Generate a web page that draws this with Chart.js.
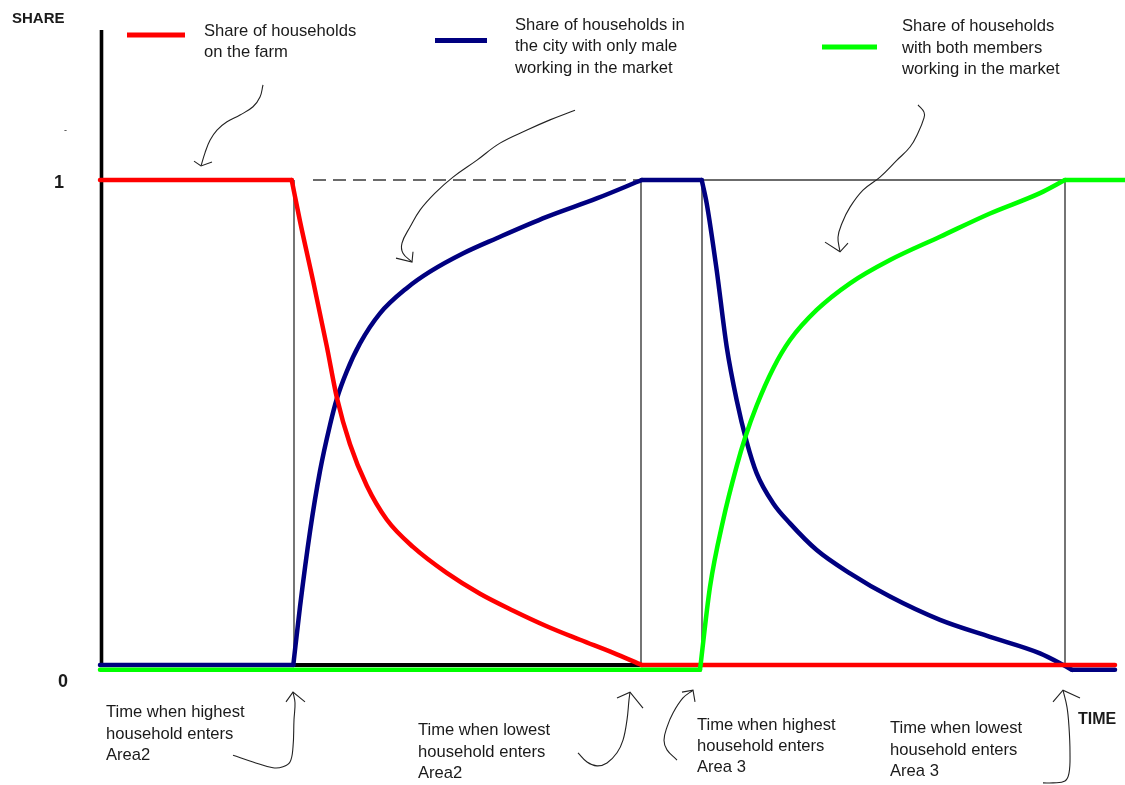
<!DOCTYPE html>
<html><head><meta charset="utf-8">
<script src="https://cdn.jsdelivr.net/npm/chart.js@4.4.1/dist/chart.umd.min.js"></script>
<style>html,body{margin:0;padding:0;background:#fff}canvas{display:block}</style>
</head><body>
<canvas id="c" width="1125" height="785"></canvas>
<script>
// ---- data (time units, share) ----
const keyTimes = [1.94, 5.41, 6.02, 9.65];
const yTickLabels = ["0", "1"];

const timeFarm  = [0, 1.917, 2.0, 2.133, 2.267, 2.37, 2.5, 2.667, 2.867, 3.133, 3.467, 3.8, 4.133, 4.467, 4.8, 5.133, 5.417, 10.15];
const shareFarm = [1, 1, 0.915, 0.79, 0.658, 0.55, 0.455, 0.37, 0.30, 0.243, 0.19, 0.147, 0.112, 0.08, 0.052, 0.025, 0, 0];

const timeMale  = [0, 1.933, 2.0, 2.1, 2.2, 2.3, 2.37, 2.467, 2.6, 2.8, 3.067, 3.3, 3.633, 3.967, 4.467, 4.967, 5.417, 6.017, 6.067, 6.167, 6.267, 6.367, 6.467, 6.567, 6.733, 6.9, 7.167, 7.5, 7.9, 8.4, 8.9, 9.4, 9.633, 9.72, 10.15];
const shareMale = [0, 0, 0.12, 0.275, 0.40, 0.495, 0.55, 0.605, 0.663, 0.725, 0.777, 0.811, 0.849, 0.880, 0.924, 0.962, 1, 1, 0.952, 0.814, 0.656, 0.546, 0.460, 0.395, 0.333, 0.292, 0.237, 0.189, 0.141, 0.093, 0.058, 0.024, 0, -0.01, -0.01];

const timeBoth  = [0, 6.0, 6.1, 6.233, 6.367, 6.45, 6.567, 6.733, 6.9, 7.167, 7.5, 7.9, 8.4, 8.9, 9.4, 9.65, 10.25];
const shareBoth = [-0.01, -0.01, 0.161, 0.30, 0.41, 0.468, 0.535, 0.612, 0.670, 0.732, 0.787, 0.835, 0.883, 0.931, 0.973, 1, 1];

const dashedTop = [2.13, 5.41];
const solidTop  = [5.41, 9.65];

// annotation arrows (time, share)
const arrowFarmT = [1.63, 1.60, 1.53, 1.40, 1.27, 1.17, 1.10, 1.05, 1.01];
const arrowFarmV = [1.196, 1.171, 1.151, 1.134, 1.120, 1.103, 1.082, 1.056, 1.029];
const headFarmT  = [0.94, 1.01, 1.12];
const headFarmV  = [1.039, 1.029, 1.037];

const arrowMaleT = [4.75, 4.50, 4.27, 4.00, 3.77, 3.53, 3.35, 3.20, 3.10, 3.02, 3.03, 3.12];
const arrowMaleV = [1.144, 1.124, 1.103, 1.076, 1.041, 1.006, 0.973, 0.938, 0.903, 0.870, 0.849, 0.831];
const headMaleT  = [2.96, 3.12, 3.13];
const headMaleV  = [0.839, 0.831, 0.852];

const arrowBothT = [8.18, 8.24, 8.24, 8.18, 8.10, 7.97, 7.80, 7.63, 7.50, 7.42, 7.38, 7.40];
const arrowBothV = [1.155, 1.140, 1.128, 1.097, 1.068, 1.041, 1.006, 0.979, 0.944, 0.911, 0.882, 0.852];
const headBothT  = [7.25, 7.40, 7.48];
const headBothV  = [0.872, 0.852, 0.870];

const arrowA_T = [1.33, 1.53, 1.73, 1.83, 1.90, 1.93, 1.94, 1.95, 1.93];
const arrowA_V = [-0.186, -0.200, -0.212, -0.210, -0.200, -0.169, -0.113, -0.078, -0.056];
const headA_T  = [1.86, 1.93, 2.05];
const headA_V  = [-0.076, -0.056, -0.076];

const arrowB_T = [4.78, 4.87, 4.97, 5.07, 5.17, 5.23, 5.27, 5.29, 5.30];
const arrowB_V = [-0.181, -0.200, -0.208, -0.202, -0.181, -0.155, -0.113, -0.072, -0.056];
const headB_T  = [5.17, 5.30, 5.43];
const headB_V  = [-0.068, -0.056, -0.089];

const arrowC_T = [5.77, 5.67, 5.64, 5.67, 5.73, 5.83, 5.93];
const arrowC_V = [-0.196, -0.175, -0.155, -0.128, -0.099, -0.068, -0.052];
const headC_T  = [5.82, 5.93, 5.95];
const headC_V  = [-0.056, -0.052, -0.076];

const arrowD_T = [9.43, 9.53, 9.65, 9.69, 9.70, 9.69, 9.67, 9.63];
const arrowD_V = [-0.243, -0.243, -0.239, -0.223, -0.181, -0.128, -0.087, -0.052];
const headD_T  = [9.53, 9.63, 9.80];
const headD_V  = [-0.076, -0.052, -0.068];

const legendFarm = ["Share of households", "on the farm"];
const legendMale = ["Share of households in", "the city with only male", "working in the market"];
const legendBoth = ["Share of households", "with both members", "working in the market"];
const noteA = ["Time when highest", "household enters", "Area2"];
const noteB = ["Time when lowest", "household enters", "Area2"];
const noteC = ["Time when highest", "household enters", "Area 3"];
const noteD = ["Time when lowest", "household enters", "Area 3"];

// ---- build ----
const pts = (t, v) => t.map((x, i) => ({x: x, y: v[i]}));
const RED = '#ff0000', NAVY = '#000080', GREEN = '#00ff00', THIN = '#3a3a3a', INK = '#1a1a1a';

// split a series into runs of flat / sloped segments so each run is smoothed on its own
function runs(t, v) {
  const out = [];
  let cur = [{x: t[0], y: v[0]}], curFlat = null;
  for (let i = 1; i < t.length; i++) {
    const flat = Math.abs(v[i] - v[i - 1]) < 1e-9;
    if (curFlat !== null && flat !== curFlat) {
      out.push(cur);
      cur = [{x: t[i - 1], y: v[i - 1]}];
    }
    curFlat = flat;
    cur.push({x: t[i], y: v[i]});
  }
  out.push(cur);
  return out;
}

const datasets = [];
function series(t, v, color, order) {
  runs(t, v).forEach(r => datasets.push({data: r, borderColor: color, borderWidth: 4.5, showLine: true, pointRadius: 0,
      cubicInterpolationMode: 'monotone', clip: false, order: order, borderCapStyle: 'round', borderJoinStyle: 'round'}));
}
function thin(t, v, dash, order) {
  datasets.push({data: pts(t, v), borderColor: THIN, borderWidth: 1.4, showLine: true, pointRadius: 0,
          tension: 0, borderDash: dash || [], clip: false, order: order});
}
function arrow(t, v, curved) {
  datasets.push({data: pts(t, v), borderColor: '#222', borderWidth: 1.1, showLine: true, pointRadius: 0,
          tension: curved ? 0.4 : 0, clip: false, order: 0});
}

series(timeBoth, shareBoth, GREEN, 1);
series(timeFarm, shareFarm, RED, 2);
series(timeMale, shareMale, NAVY, 3);
thin(dashedTop, [1, 1], [13, 7], 10);
thin(solidTop, [1, 1], [], 10);
keyTimes.forEach(k => thin([k, k], [0, 1], [], 10));
[[arrowFarmT, arrowFarmV, headFarmT, headFarmV], [arrowMaleT, arrowMaleV, headMaleT, headMaleV],
 [arrowBothT, arrowBothV, headBothT, headBothV], [arrowA_T, arrowA_V, headA_T, headA_V],
 [arrowB_T, arrowB_V, headB_T, headB_V], [arrowC_T, arrowC_V, headC_T, headC_V],
 [arrowD_T, arrowD_V, headD_T, headD_V]].forEach(a => {
  arrow(a[0], a[1], true);
  arrow(a[2], a[3], false);
});

const FONT = '16.6px "Liberation Sans", Arial, sans-serif';
const BOLD = (s) => 'bold ' + s + 'px "Liberation Sans", Arial, sans-serif';

const axesPlugin = {
  id: 'axes',
  beforeDatasetsDraw(chart) {
    const c = chart.ctx, xs = chart.scales.x, ys = chart.scales.y;
    const x0 = xs.getPixelForValue(0), y0 = ys.getPixelForValue(0);
    c.save();
    c.strokeStyle = '#000'; c.lineCap = 'butt';
    c.lineWidth = 3.6;
    c.beginPath(); c.moveTo(x0 + 1.5, chart.chartArea.top); c.lineTo(x0 + 1.5, y0 + 1.5); c.stroke();
    c.lineWidth = 4;
    c.beginPath(); c.moveTo(x0, y0); c.lineTo(xs.getPixelForValue(10.15), y0); c.stroke();
    c.restore();
  },
  afterDraw(chart) {
    const c = chart.ctx, ys = chart.scales.y;
    c.save();
    c.fillStyle = INK; c.textBaseline = 'alphabetic'; c.textAlign = 'left';
    c.font = BOLD(15); c.fillText('SHARE', 12, 23);
    c.font = BOLD(16); c.fillText('TIME', 1078, 724);
    c.font = BOLD(18);
    c.fillText(yTickLabels[1], 54, ys.getPixelForValue(1) + 8);
    c.fillText(yTickLabels[0], 58, ys.getPixelForValue(0) + 22);
    c.font = '9px "Liberation Sans", Arial, sans-serif';
    c.fillText('-', 64, 133);

    // legend swatches
    c.lineCap = 'butt'; c.lineWidth = 5;
    [[RED, 127, 185, 35], [NAVY, 435, 487, 40.5], [GREEN, 822, 877, 47]].forEach(s => {
      c.strokeStyle = s[0]; c.beginPath(); c.moveTo(s[1], s[3]); c.lineTo(s[2], s[3]); c.stroke();
    });
    c.font = FONT;
    const block = (lines, x, y, lh) => lines.forEach((l, i) => c.fillText(l, x, y + i * lh));
    block(legendFarm, 204, 36, 21.3);
    block(legendMale, 515, 30, 21.3);
    block(legendBoth, 902, 31, 21.5);
    block(noteA, 106, 717, 21.5);
    block(noteB, 418, 735, 21.5);
    block(noteC, 697, 730, 21);
    block(noteD, 890, 733, 21.5);
    c.restore();
  }
};

new Chart(document.getElementById('c'), {
  type: 'scatter',
  data: {datasets: datasets},
  options: {
    responsive: false, animation: false, devicePixelRatio: 1,
    layout: {padding: {left: 100, right: 10, top: 30, bottom: 120}},
    elements: {line: {capBezierPoints: false}},
    plugins: {legend: {display: false}, tooltip: {enabled: false}},
    scales: {
      x: {type: 'linear', min: 0, max: 10.15, display: false},
      y: {type: 'linear', min: 0, max: 1.3093, display: false}
    }
  },
  plugins: [axesPlugin]
});
</script>
</body></html>
